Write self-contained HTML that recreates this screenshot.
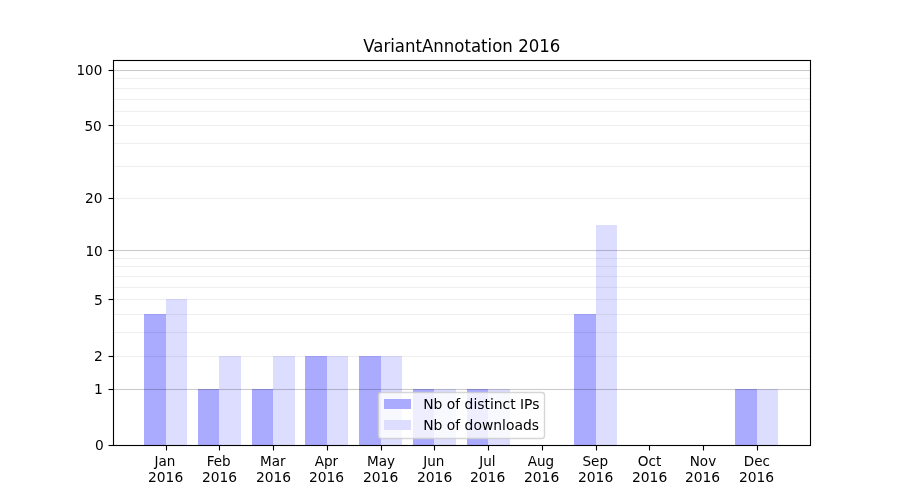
<!DOCTYPE html>
<html lang="en"><head><meta charset="utf-8"><title>VariantAnnotation 2016</title>
<style>html,body{margin:0;padding:0;background:#fff;overflow:hidden}svg{display:block}text{font-family:'DejaVu Sans','Liberation Sans',sans-serif;fill:#000;}</style></head><body>
<svg width="900" height="500" viewBox="0 0 900 500">
<rect x="0" y="0" width="900" height="500" fill="#ffffff"/>
<g shape-rendering="crispEdges">
<rect x="144" y="314" width="22" height="131" fill="#aaaaff"/>
<rect x="166" y="299" width="21" height="146" fill="#ddddff"/>
<rect x="198" y="389" width="21" height="56" fill="#aaaaff"/>
<rect x="219" y="356" width="22" height="89" fill="#ddddff"/>
<rect x="252" y="389" width="21" height="56" fill="#aaaaff"/>
<rect x="273" y="356" width="22" height="89" fill="#ddddff"/>
<rect x="305" y="356" width="22" height="89" fill="#aaaaff"/>
<rect x="327" y="356" width="21" height="89" fill="#ddddff"/>
<rect x="359" y="356" width="22" height="89" fill="#aaaaff"/>
<rect x="381" y="356" width="21" height="89" fill="#ddddff"/>
<rect x="413" y="389" width="21" height="56" fill="#aaaaff"/>
<rect x="434" y="389" width="22" height="56" fill="#ddddff"/>
<rect x="467" y="389" width="21" height="56" fill="#aaaaff"/>
<rect x="488" y="389" width="22" height="56" fill="#ddddff"/>
<rect x="574" y="314" width="22" height="131" fill="#aaaaff"/>
<rect x="596" y="225" width="21" height="220" fill="#ddddff"/>
<rect x="735" y="389" width="22" height="56" fill="#aaaaff"/>
<rect x="757" y="389" width="21" height="56" fill="#ddddff"/>
</g>
<g fill="#000" shape-rendering="crispEdges">
<rect x="113" y="355" width="698" height="3" fill-opacity="0.0033"/><rect x="113" y="356" width="698" height="1" fill-opacity="0.0569"/>
<rect x="113" y="331" width="698" height="3" fill-opacity="0.0033"/><rect x="113" y="332" width="698" height="1" fill-opacity="0.0569"/>
<rect x="113" y="313" width="698" height="3" fill-opacity="0.0033"/><rect x="113" y="314" width="698" height="1" fill-opacity="0.0569"/>
<rect x="113" y="298" width="698" height="3" fill-opacity="0.0033"/><rect x="113" y="299" width="698" height="1" fill-opacity="0.0569"/>
<rect x="113" y="286" width="698" height="3" fill-opacity="0.0033"/><rect x="113" y="287" width="698" height="1" fill-opacity="0.0569"/>
<rect x="113" y="275" width="698" height="3" fill-opacity="0.0033"/><rect x="113" y="276" width="698" height="1" fill-opacity="0.0569"/>
<rect x="113" y="265" width="698" height="3" fill-opacity="0.0033"/><rect x="113" y="266" width="698" height="1" fill-opacity="0.0569"/>
<rect x="113" y="257" width="698" height="3" fill-opacity="0.0033"/><rect x="113" y="258" width="698" height="1" fill-opacity="0.0569"/>
<rect x="113" y="197" width="698" height="3" fill-opacity="0.0033"/><rect x="113" y="198" width="698" height="1" fill-opacity="0.0569"/>
<rect x="113" y="165" width="698" height="3" fill-opacity="0.0033"/><rect x="113" y="166" width="698" height="1" fill-opacity="0.0569"/>
<rect x="113" y="142" width="698" height="3" fill-opacity="0.0033"/><rect x="113" y="143" width="698" height="1" fill-opacity="0.0569"/>
<rect x="113" y="124" width="698" height="3" fill-opacity="0.0033"/><rect x="113" y="125" width="698" height="1" fill-opacity="0.0569"/>
<rect x="113" y="110" width="698" height="3" fill-opacity="0.0033"/><rect x="113" y="111" width="698" height="1" fill-opacity="0.0569"/>
<rect x="113" y="98" width="698" height="3" fill-opacity="0.0033"/><rect x="113" y="99" width="698" height="1" fill-opacity="0.0569"/>
<rect x="113" y="87" width="698" height="3" fill-opacity="0.0033"/><rect x="113" y="88" width="698" height="1" fill-opacity="0.0569"/>
<rect x="113" y="77" width="698" height="3" fill-opacity="0.0033"/><rect x="113" y="78" width="698" height="1" fill-opacity="0.0569"/>
<rect x="113" y="388" width="698" height="3" fill-opacity="0.0110"/><rect x="113" y="389" width="698" height="1" fill-opacity="0.1911"/>
<rect x="113" y="249" width="698" height="3" fill-opacity="0.0110"/><rect x="113" y="250" width="698" height="1" fill-opacity="0.1911"/>
<rect x="113" y="69" width="698" height="3" fill-opacity="0.0110"/><rect x="113" y="70" width="698" height="1" fill-opacity="0.1911"/>
</g>
<g stroke="#000" stroke-width="1.11" fill="none">
<line x1="166.5" x2="166.5" y1="445.5" y2="450.5"/>
<line x1="219.5" x2="219.5" y1="445.5" y2="450.5"/>
<line x1="273.5" x2="273.5" y1="445.5" y2="450.5"/>
<line x1="327.5" x2="327.5" y1="445.5" y2="450.5"/>
<line x1="381.5" x2="381.5" y1="445.5" y2="450.5"/>
<line x1="434.5" x2="434.5" y1="445.5" y2="450.5"/>
<line x1="488.5" x2="488.5" y1="445.5" y2="450.5"/>
<line x1="542.5" x2="542.5" y1="445.5" y2="450.5"/>
<line x1="596.5" x2="596.5" y1="445.5" y2="450.5"/>
<line x1="649.5" x2="649.5" y1="445.5" y2="450.5"/>
<line x1="703.5" x2="703.5" y1="445.5" y2="450.5"/>
<line x1="757.5" x2="757.5" y1="445.5" y2="450.5"/>
<line x1="108.5" x2="113.5" y1="445.5" y2="445.5"/>
<line x1="108.5" x2="113.5" y1="389.5" y2="389.5"/>
<line x1="108.5" x2="113.5" y1="356.5" y2="356.5"/>
<line x1="108.5" x2="113.5" y1="299.5" y2="299.5"/>
<line x1="108.5" x2="113.5" y1="250.5" y2="250.5"/>
<line x1="108.5" x2="113.5" y1="198.5" y2="198.5"/>
<line x1="108.5" x2="113.5" y1="125.5" y2="125.5"/>
<line x1="108.5" x2="113.5" y1="70.5" y2="70.5"/>
<rect x="113.5" y="60.5" width="697" height="385" stroke-linejoin="miter"/>
</g>
<text transform="translate(154.49 465.78) scale(0.9750 1.0300)" font-size="13.889" text-anchor="start">Jan</text>
<text transform="translate(148.03 481.83) scale(0.9950 1.0001)" font-size="13.889" text-anchor="start">2016</text>
<text transform="translate(206.64 465.78) scale(0.9750 1.0300)" font-size="13.889" text-anchor="start">Feb</text>
<text transform="translate(202.01 481.83) scale(0.9950 1.0300)" font-size="13.889" text-anchor="start">2016</text>
<text transform="translate(260.07 465.78) scale(0.9750 1.0300)" font-size="13.889" text-anchor="start">Mar</text>
<text transform="translate(256.00 481.83) scale(0.9950 1.0300)" font-size="13.889" text-anchor="start">2016</text>
<text transform="translate(314.64 465.78) scale(0.9800 1.0300)" font-size="13.889" text-anchor="start">Apr</text>
<text transform="translate(308.99 481.83) scale(0.9950 1.0300)" font-size="13.889" text-anchor="start">2016</text>
<text transform="translate(367.04 465.78) scale(0.9750 1.0300)" font-size="13.889" text-anchor="start">May</text>
<text transform="translate(362.97 481.83) scale(0.9999 1.0300)" font-size="13.889" text-anchor="start">2016</text>
<text transform="translate(423.28 465.78) scale(0.9750 1.0001)" font-size="13.889" text-anchor="start">Jun</text>
<text transform="translate(416.96 481.83) scale(0.9999 1.0300)" font-size="13.889" text-anchor="start">2016</text>
<text transform="translate(479.24 465.78) scale(0.9750 1.0001)" font-size="13.889" text-anchor="start">Jul</text>
<text transform="translate(469.94 481.83) scale(0.9999 1.0300)" font-size="13.889" text-anchor="start">2016</text>
<text transform="translate(527.79 465.78) scale(0.9750 1.0001)" font-size="13.889" text-anchor="start">Aug</text>
<text transform="translate(523.93 481.83) scale(0.9999 1.0300)" font-size="13.889" text-anchor="start">2016</text>
<text transform="translate(582.50 465.78) scale(0.9750 1.0300)" font-size="13.889" text-anchor="start">Sep</text>
<text transform="translate(577.92 481.83) scale(0.9999 1.0300)" font-size="13.889" text-anchor="start">2016</text>
<text transform="translate(637.82 465.78) scale(0.9850 1.0300)" font-size="13.889" text-anchor="start">Oct</text>
<text transform="translate(631.90 481.83) scale(0.9999 1.0001)" font-size="13.889" text-anchor="start">2016</text>
<text transform="translate(689.76 465.78) scale(0.9750 1.0300)" font-size="13.889" text-anchor="start">Nov</text>
<text transform="translate(684.89 481.83) scale(0.9999 1.0300)" font-size="13.889" text-anchor="start">2016</text>
<text transform="translate(743.86 465.78) scale(0.9750 1.0300)" font-size="13.889" text-anchor="start">Dec</text>
<text transform="translate(738.88 481.83) scale(0.9999 1.0300)" font-size="13.889" text-anchor="start">2016</text>
<text transform="translate(103.78 449.78) scale(0.9900 1.0300)" font-size="13.889" text-anchor="end">0</text>
<text transform="translate(102.78 393.94) scale(0.9999 1.0300)" font-size="13.889" text-anchor="end">1</text>
<text transform="translate(102.78 360.99) scale(0.9999 1.0300)" font-size="13.889" text-anchor="end">2</text>
<text x="102.78" y="304.65" font-size="13.889" text-anchor="end">5</text>
<text transform="translate(102.78 255.89) scale(0.9850 1.0300)" font-size="13.889" text-anchor="end">10</text>
<text transform="translate(102.53 202.84) scale(0.9900 1.0300)" font-size="13.889" text-anchor="end">20</text>
<text transform="translate(101.78 130.72) scale(0.9850 1.0300)" font-size="13.889" text-anchor="end">50</text>
<text transform="translate(102.28 74.69) scale(0.9750 1.0300)" font-size="13.889" text-anchor="end">100</text>
<text transform="translate(461.75 51.67) scale(0.9950 1.0600)" font-size="16.667" text-anchor="middle">VariantAnnotation 2016</text>
<rect x="378.5" y="392.5" width="166" height="46" rx="2.78" ry="2.78" fill="#fff" fill-opacity="0.8" stroke="#ccc" stroke-opacity="0.8" stroke-width="1.389"/>
<rect x="384" y="399" width="27" height="10" fill="#aaaaff" shape-rendering="crispEdges"/>
<rect x="384" y="420" width="27" height="10" fill="#ddddff" shape-rendering="crispEdges"/>
<text transform="translate(423.24 408.73) scale(0.9999 1.0300)" font-size="13.889" text-anchor="start">Nb of distinct IPs</text>
<text x="423.24" y="429.61" font-size="13.889" text-anchor="start">Nb of downloads</text>
</svg></body></html>
